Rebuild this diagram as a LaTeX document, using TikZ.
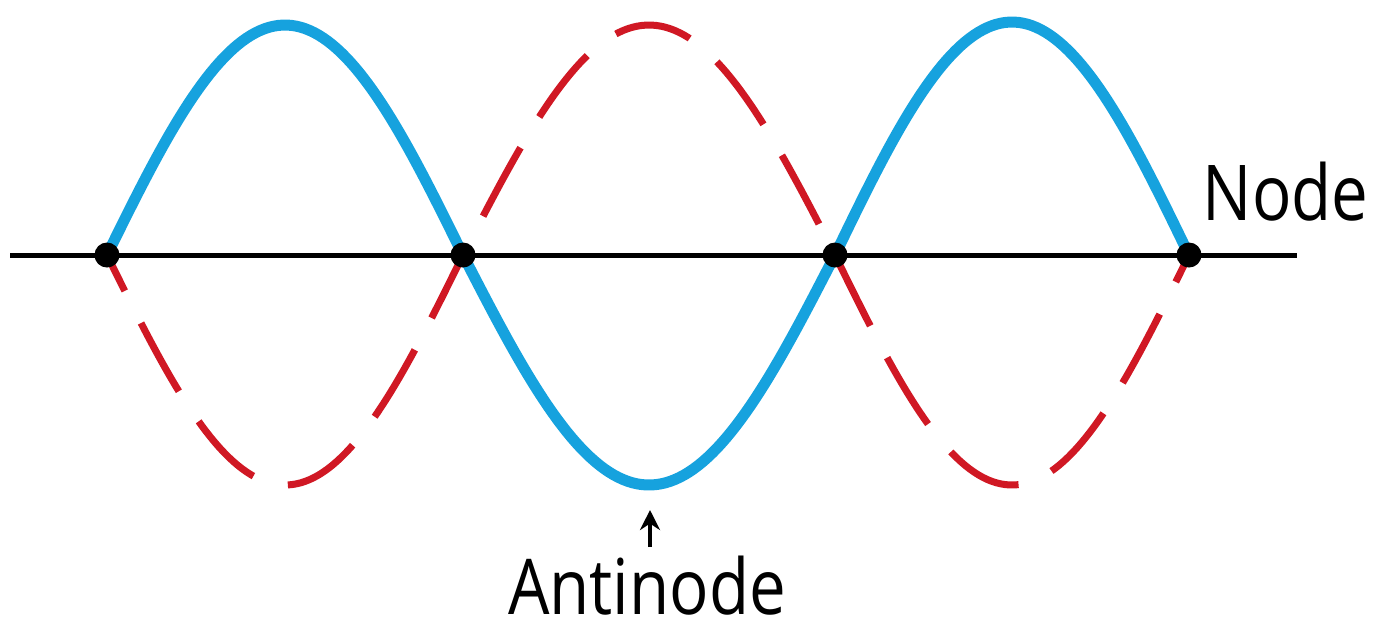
\documentclass[tikz,border=0pt]{standalone}
\usepackage{fontspec}
\setmainfont{Open Sans}
\usetikzlibrary{arrows.meta}
\definecolor{waveblue}{RGB}{22,162,222}
\definecolor{wavered}{RGB}{208,24,36}
\tikzset{
  bluewave/.style={draw=waveblue, line width=0.11cm, line join=round},
  redwave/.style={draw=wavered, line width=0.07cm, dash pattern=on 0.78cm off 0.36cm, dash phase=0.38cm},
  axisline/.style={draw=black, line width=0.05cm},
  nodedot/.style={circle, fill=black, inner sep=0pt, minimum size=0.25cm},
  lbl/.style={inner sep=0pt, font=\fontsize{21.9}{26}\selectfont},
}
\begin{document}
\begin{tikzpicture}[x=0.01cm, y=-0.01cm]
\useasboundingbox (0,0) rectangle (1374,620);
\coordinate (axl) at (10,255);
\coordinate (axr) at (1297,255);
\draw[axisline] (axl) -- (axr);
% red dashed wave
\draw[redwave] plot[domain=107:463, samples=80] (\x, {255+230*sin((\x-107)/356*180)})
  -- plot[domain=463:835, samples=80] (\x, {255-230*sin((\x-463)/372*180)})
  -- plot[domain=835:1189, samples=80] (\x, {255+230*sin((\x-835)/354*180)});
% blue solid wave
\draw[bluewave] plot[domain=107:463, samples=80] (\x, {255-230*sin((\x-107)/356*180)})
  -- plot[domain=463:835, samples=80] (\x, {255+230*sin((\x-463)/372*180)})
  -- plot[domain=835:1189, samples=80] (\x, {255-233*sin((\x-835)/354*180)});
\node[nodedot] (n1) at (107,255) {};
\node[nodedot] (n2) at (463,255) {};
\node[nodedot] (n3) at (835,255) {};
\node[nodedot] (n4) at (1189,255) {};
\node[lbl, anchor=base west] (nodelbl) at (1202,220) {\scalebox{0.85}[1]{Node}};
\node[lbl, anchor=base] (antilbl) at (647,614) {\scalebox{0.85}[1]{Antinode}};
\coordinate (arrowtip) at (650,510);
\coordinate (arrowtail) at (650,547);
\draw[line width=0.04cm, -{Stealth[length=0.2cm, width=0.2cm]}] (arrowtail) -- (arrowtip);
\end{tikzpicture}
\end{document}
